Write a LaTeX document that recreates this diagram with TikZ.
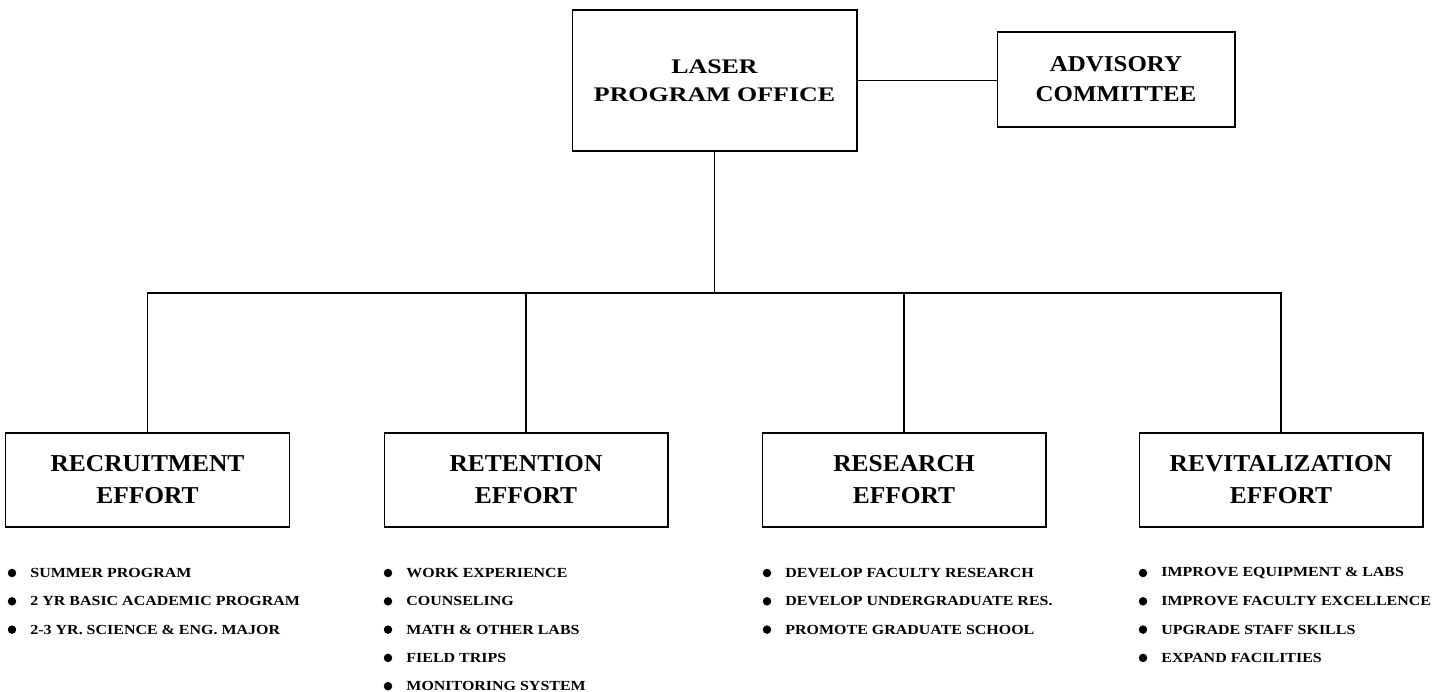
\documentclass[tikz,border=0pt]{standalone}
\usepackage{fontspec}
\setmainfont{Liberation Serif}
\newfontfamily\laserfam[FakeStretch=1.25]{Liberation Serif}
\newfontfamily\advfam[FakeStretch=1.1]{Liberation Serif}
\newfontfamily\titlefam[FakeStretch=1.05]{Liberation Serif}
\newfontfamily\itemfam[FakeStretch=1.15]{Liberation Serif}
\usetikzlibrary{positioning}

\begin{document}
\begin{tikzpicture}[
    x=0.02cm, y=-0.02cm,
    office/.style={rectangle, draw=black, line width=0.6pt, align=center, inner sep=0pt},
    effort/.style={office, minimum width=5.68cm, minimum height=1.88cm, font=\titlefam\bfseries\fontsize{13.8}{18.2}\selectfont},
    dot/.style={circle, fill=black, inner sep=0pt, minimum size=0.17cm},
    item/.style={anchor=west, inner sep=0pt, font=\itemfam\bfseries\fontsize{7.9}{9}\selectfont},
    link/.style={line width=0.6pt}
]
\useasboundingbox (0,0) rectangle (1446,691);

% ==== Program office and committee ====
\node[office, minimum width=5.7cm, minimum height=2.82cm, font=\laserfam\bfseries\fontsize{11.8}{16}\selectfont] (laser) at (714.5,80.5) {LASER\\PROGRAM OFFICE};
\node[office, minimum width=4.76cm, minimum height=1.9cm, font=\advfam\bfseries\fontsize{12.9}{17}\selectfont] (advisory) at (1116,79.5) {ADVISORY\\COMMITTEE};
\draw[link] (laser.east) -- (laser.east -| advisory.west);

% ==== Effort boxes ====
\node[effort] (recruit) at (147.5,480) {RECRUITMENT\\EFFORT};
\node[effort] (retain) at (526,480) {RETENTION\\EFFORT};
\node[effort] (research) at (904,480) {RESEARCH\\EFFORT};
\node[effort] (revital) at (1281,480) {REVITALIZATION\\EFFORT};

% ==== Tree lines ====
\coordinate (bus) at (714.5,293);
\draw[link] (laser.south) -- (bus);
\draw[link] (recruit.north) |- (bus) -| (revital.north);
\draw[link] (retain.north) -- (retain.north |- bus);
\draw[link] (research.north) -- (research.north |- bus);

% ==== Bullet lists ====
\foreach \txt [count=\i] in {SUMMER PROGRAM, 2 YR BASIC ACADEMIC PROGRAM, 2-3 YR. SCIENCE \& ENG. MAJOR} {
    \node[dot] (rcdot\i) at (12,544.7+28.3*\i) {};
    \node[item, right=0.27cm of rcdot\i] (rctext\i) {\txt};
}
\foreach \txt [count=\i] in {WORK EXPERIENCE, COUNSELING, MATH \& OTHER LABS, FIELD TRIPS, MONITORING SYSTEM} {
    \node[dot] (rtdot\i) at (388,544.7+28.3*\i) {};
    \node[item, right=0.27cm of rtdot\i] (rttext\i) {\txt};
}
\foreach \txt [count=\i] in {DEVELOP FACULTY RESEARCH, DEVELOP UNDERGRADUATE RES., PROMOTE GRADUATE SCHOOL} {
    \node[dot] (rsdot\i) at (767,544.7+28.3*\i) {};
    \node[item, right=0.27cm of rsdot\i] (rstext\i) {\txt};
}
\foreach \txt [count=\i] in {IMPROVE EQUIPMENT \& LABS, IMPROVE FACULTY EXCELLENCE, UPGRADE STAFF SKILLS, EXPAND FACILITIES} {
    \node[dot] (rvdot\i) at (1143,544.7+28.3*\i) {};
    \node[item, right=0.27cm of rvdot\i] (rvtext\i) {\txt};
}

\end{tikzpicture}
\end{document}
